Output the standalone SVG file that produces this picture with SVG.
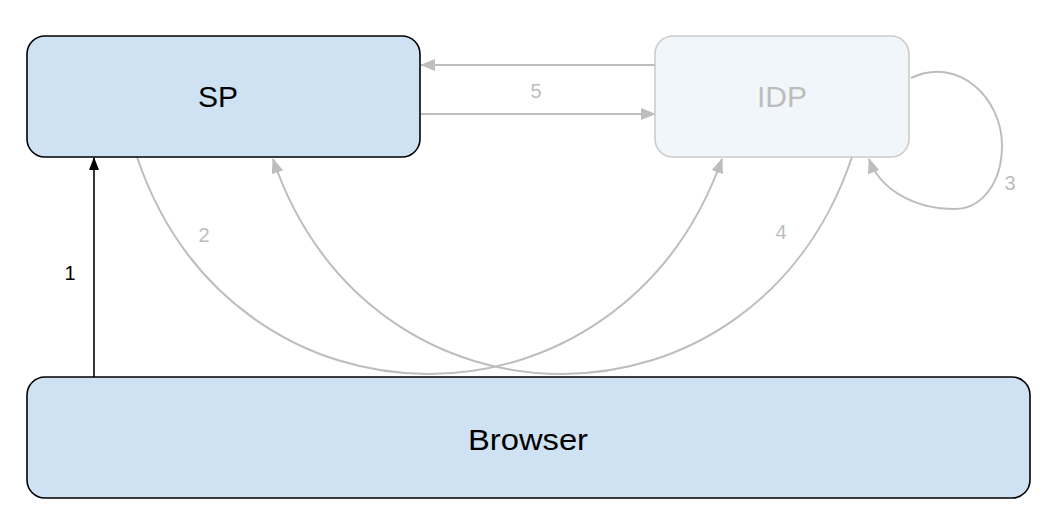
<svg xmlns="http://www.w3.org/2000/svg" width="1056" height="523" viewBox="0 0 1056 523">
<style>
.box{fill:#cfe2f3;stroke:#000;stroke-width:1.6}
.idp{fill:#f1f6fb;stroke:#cccccc;stroke-width:1.6}
.t{font-family:"Liberation Sans",Arial,sans-serif;font-size:30px;text-anchor:middle}
.lbl{font-family:"Liberation Sans",Arial,sans-serif;font-size:20px;text-anchor:middle;fill:#bdbdbd}
.g{fill:none;stroke:#bdbdbd;stroke-width:2}
.k{fill:none;stroke:#000;stroke-width:1.6}
</style>
<defs>
<marker id="ag" markerUnits="userSpaceOnUse" markerWidth="16" markerHeight="12" refX="14" refY="6" orient="auto"><path d="M0,0 L15,6 L0,12 Z" fill="#bdbdbd"/></marker>
<marker id="ak" markerUnits="userSpaceOnUse" markerWidth="14" markerHeight="10" refX="12" refY="5" orient="auto"><path d="M0,0 L13,5 L0,10 Z" fill="#000"/></marker>
</defs>
<g id="connectors">
<path class="k" d="M94,377 L94,158" marker-end="url(#ak)"/>
<path class="g" d="M655,65 L421,65" marker-end="url(#ag)"/>
<path class="g" d="M421,114 L655,114" marker-end="url(#ag)"/>
<path class="g" d="M137,157 C235,446 620,446 722,159" marker-end="url(#ag)"/>
<path class="g" d="M852,157 C755,446 370,446 273,159" marker-end="url(#ag)"/>
<path class="g" d="M911,78 C960,55 1002,100 1002,145 C1002,185 980,209 955,209 C915,209 880,190 869,159" marker-end="url(#ag)"/>
<text class="lbl" x="70" y="280" style="fill:#000">1</text>
<text class="lbl" x="204" y="242">2</text>
<text class="lbl" x="1010" y="190">3</text>
<text class="lbl" x="781" y="239">4</text>
<text class="lbl" x="536" y="98">5</text>
</g>
<g id="sp">
<rect class="box" x="27" y="36" width="393" height="121" rx="18"/>
<text class="t" x="218" y="107">SP</text>
</g>
<g id="idp">
<rect class="idp" x="655" y="36" width="254" height="121" rx="18"/>
<text class="t" x="782" y="107" style="fill:#bdbdbd">IDP</text>
</g>
<g id="browser">
<rect class="box" x="27" y="377" width="1003" height="121" rx="18"/>
<text class="t" x="528" y="450" textLength="120" lengthAdjust="spacingAndGlyphs">Browser</text>
</g>
</svg>
